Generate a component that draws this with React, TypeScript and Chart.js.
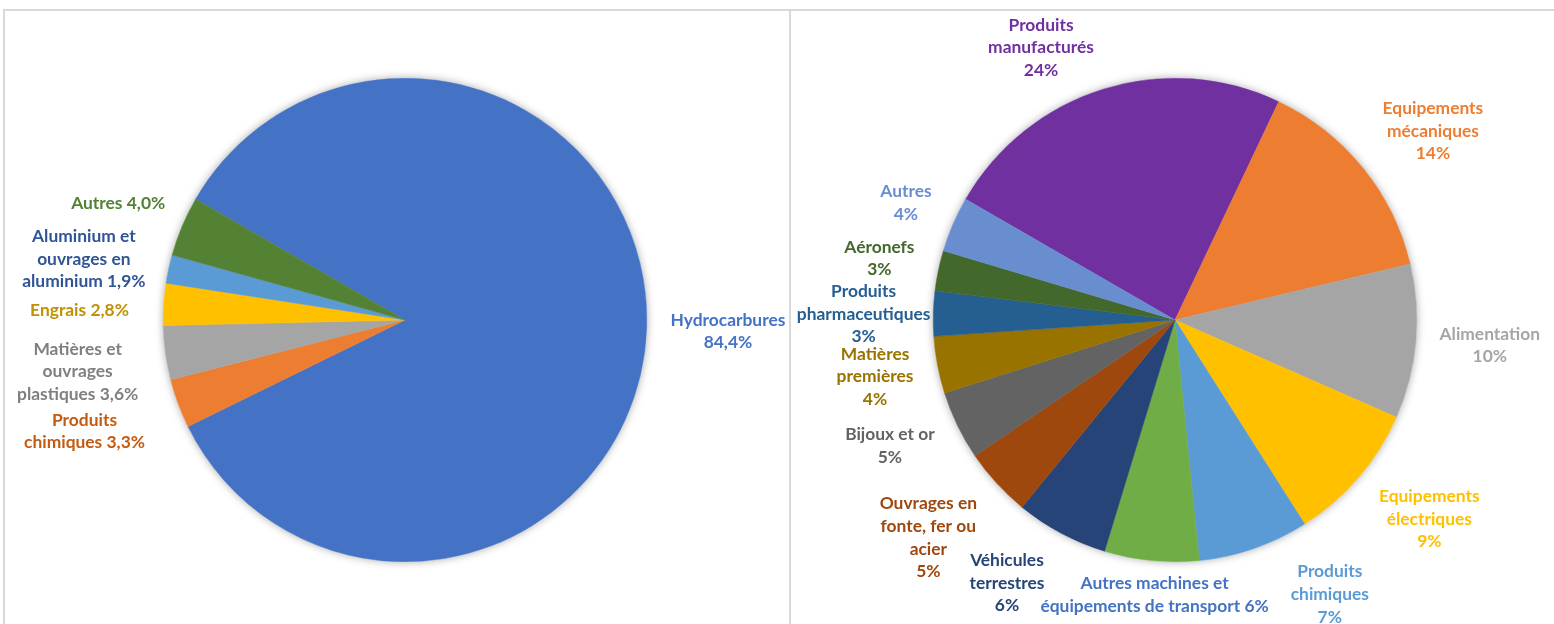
import React, { useEffect, useRef } from "react";
import { Chart, registerables } from "chart.js";

Chart.register(...registerables);

// ---------- Data ----------
const leftCategories = [
  "Hydrocarbures",
  "Produits chimiques",
  "Matières et ouvrages plastiques",
  "Engrais",
  "Aluminium et ouvrages en aluminium",
  "Autres",
];
const leftValues = [84.4, 3.3, 3.6, 2.8, 1.9, 4.0];
const leftLabelLines = [
  ["Hydrocarbures", "{v}"],
  ["Produits", "chimiques {v}"],
  ["Matières et", "ouvrages", "plastiques {v}"],
  ["Engrais {v}"],
  ["Aluminium et", "ouvrages en", "aluminium {v}"],
  ["Autres {v}"],
];

const rightCategories = [
  "Produits manufacturés",
  "Equipements mécaniques",
  "Alimentation",
  "Equipements électriques",
  "Produits chimiques",
  "Autres machines et équipements de transport",
  "Véhicules terrestres",
  "Ouvrages en fonte, fer ou acier",
  "Bijoux et or",
  "Matières premières",
  "Produits pharmaceutiques",
  "Aéronefs",
  "Autres",
];
const rightValues = [23.7, 14.2, 10.3, 9.4, 7.4, 6.3, 6.2, 4.6, 4.6, 3.8, 3.0, 2.7, 3.7];
const rightLabelLines = [
  ["Produits", "manufacturés", "{v}"],
  ["Equipements", "mécaniques", "{v}"],
  ["Alimentation", "{v}"],
  ["Equipements", "électriques", "{v}"],
  ["Produits", "chimiques", "{v}"],
  ["Autres machines et", "équipements de transport {v}"],
  ["Véhicules", "terrestres", "{v}"],
  ["Ouvrages en", "fonte, fer ou", "acier", "{v}"],
  ["Bijoux et or", "{v}"],
  ["Matières", "premières", "{v}"],
  ["Produits", "pharmaceutiques", "{v}"],
  ["Aéronefs", "{v}"],
  ["Autres", "{v}"],
];

// ---------- Styles ----------
const leftColors = ["#4472C4", "#ED7D31", "#A5A5A5", "#FFC000", "#5B9BD5", "#548235"];
const leftTextColors = ["#4472C4", "#C55A11", "#7F7F7F", "#BF9000", "#2F5597", "#548235"];
const leftNudges = [[6, 2], [-20, 14], [-10, 12], [-17, 8], [-7, 1], [-4, -12]];

const rightColors = [
  "#7030A0", "#ED7D31", "#A5A5A5", "#FFC000", "#5B9BD5", "#70AD47", "#264478",
  "#9E480E", "#636363", "#997300", "#255E91", "#43682B", "#698ED0",
];
const rightTextColors = [
  "#7030A0", "#ED7D31", "#A5A5A5", "#FFC000", "#5B9BD5", "#4472C4", "#264478",
  "#9E480E", "#636363", "#997300", "#255E91", "#43682B", "#698ED0",
];
const rightNudges = [
  [-41, 8], [17, -4], [6, 0], [19, 8], [57, -3], [16, -6], [-28, 4],
  [-19, 12], [-11, 3], [-7, 2], [15, 2], [-7, -4], [-7, -5],
];

const FONT = 'bold 17.4px Lato, "Open Sans", sans-serif';
const LINE_H = 22.6;
const GAP = 18;

type PieCfg = {
  categories: string[];
  values: number[];
  lines: string[][];
  colors: string[];
  textColors: string[];
  nudges: number[][];
  format: (v: number, total: number) => string;
  padding: { left: number; right: number; top: number; bottom: number };
};

function makePlugin(cfg: PieCfg) {
  return {
    id: "pieDecor",
    beforeDatasetsDraw(chart: any) {
      const arc = chart.getDatasetMeta(0).data[0];
      if (!arc) return;
      const { x, y, outerRadius } = arc.getProps(["x", "y", "outerRadius"], true);
      const ctx = chart.ctx;
      ctx.save();
      ctx.beginPath();
      ctx.arc(x, y, outerRadius, 0, Math.PI * 2);
      ctx.shadowColor = "rgba(0,0,0,0.35)";
      ctx.shadowBlur = 9;
      ctx.shadowOffsetX = 0;
      ctx.shadowOffsetY = 0;
      ctx.fillStyle = "#ffffff";
      ctx.fill();
      ctx.restore();
    },
    afterDatasetsDraw(chart: any) {
      const ctx = chart.ctx;
      const data = chart.data.datasets[0].data as number[];
      const total = data.reduce((a, b) => a + b, 0);
      const meta = chart.getDatasetMeta(0);
      ctx.save();
      ctx.font = FONT;
      ctx.textAlign = "center";
      ctx.textBaseline = "middle";
      meta.data.forEach((el: any, i: number) => {
        const p = el.getProps(["x", "y", "startAngle", "endAngle", "outerRadius"], true);
        const mid = (p.startAngle + p.endAngle) / 2;
        const dx = Math.cos(mid);
        const dy = Math.sin(mid);
        const txt = cfg.format(data[i], total);
        const lines = cfg.lines[i].map((l) => l.replace("{v}", txt));
        const w = Math.max(...lines.map((l) => ctx.measureText(l).width));
        const h = lines.length * LINE_H;
        const n = cfg.nudges[i] || [0, 0];
        const cx = p.x + dx * (p.outerRadius + GAP) + (dx * w) / 2 + n[0];
        const cy = p.y + dy * (p.outerRadius + GAP) + (dy * h) / 2 + n[1];
        ctx.fillStyle = cfg.textColors[i];
        lines.forEach((l, k) => {
          ctx.fillText(l, cx, cy - h / 2 + LINE_H * (k + 0.5));
        });
      });
      ctx.restore();
    },
  };
}

function PieBox({ cfg, style }: { cfg: PieCfg; style: React.CSSProperties }) {
  const ref = useRef<HTMLCanvasElement | null>(null);
  useEffect(() => {
    if (!ref.current) return;
    const chart = new Chart(ref.current, {
      type: "pie",
      data: {
        labels: cfg.categories,
        datasets: [
          {
            data: cfg.values,
            backgroundColor: cfg.colors,
            borderColor: cfg.colors,
            borderWidth: 0.5,
          },
        ],
      },
      options: {
        responsive: true,
        maintainAspectRatio: false,
        animation: false,
        rotation: -60,
        layout: { padding: cfg.padding },
        plugins: {
          legend: { display: false },
          tooltip: { enabled: false },
        },
      },
      plugins: [makePlugin(cfg)],
    });
    return () => chart.destroy();
  }, []);
  return (
    <div style={{ position: "absolute", ...style }}>
      <canvas ref={ref} />
    </div>
  );
}

const leftCfg: PieCfg = {
  categories: leftCategories,
  values: leftValues,
  lines: leftLabelLines,
  colors: leftColors,
  textColors: leftTextColors,
  nudges: leftNudges,
  format: (v) => v.toFixed(1).replace(".", ",") + "%",
  padding: { left: 163, right: 143, top: 78, bottom: 62 },
};

const rightCfg: PieCfg = {
  categories: rightCategories,
  values: rightValues,
  lines: rightLabelLines,
  colors: rightColors,
  textColors: rightTextColors,
  nudges: rightNudges,
  format: (v, total) => Math.round((v / total) * 100) + "%",
  padding: { left: 143, right: 137, top: 78, bottom: 62 },
};

export default function App() {
  const border = "#D9D9D9";
  return (
    <div
      style={{
        position: "absolute",
        left: 0,
        top: 0,
        width: 1554,
        height: 624,
        overflow: "hidden",
        background: "#ffffff",
      }}
    >
      <div style={{ position: "absolute", left: 3, top: 9, width: 1551, height: 2, background: border }} />
      <div style={{ position: "absolute", left: 3, top: 9, width: 2, height: 615, background: border }} />
      <div style={{ position: "absolute", left: 789, top: 9, width: 2, height: 615, background: border }} />
      <PieBox cfg={leftCfg} style={{ left: 0, top: 0, width: 790, height: 624 }} />
      <PieBox cfg={rightCfg} style={{ left: 790, top: 0, width: 764, height: 624 }} />
    </div>
  );
}
